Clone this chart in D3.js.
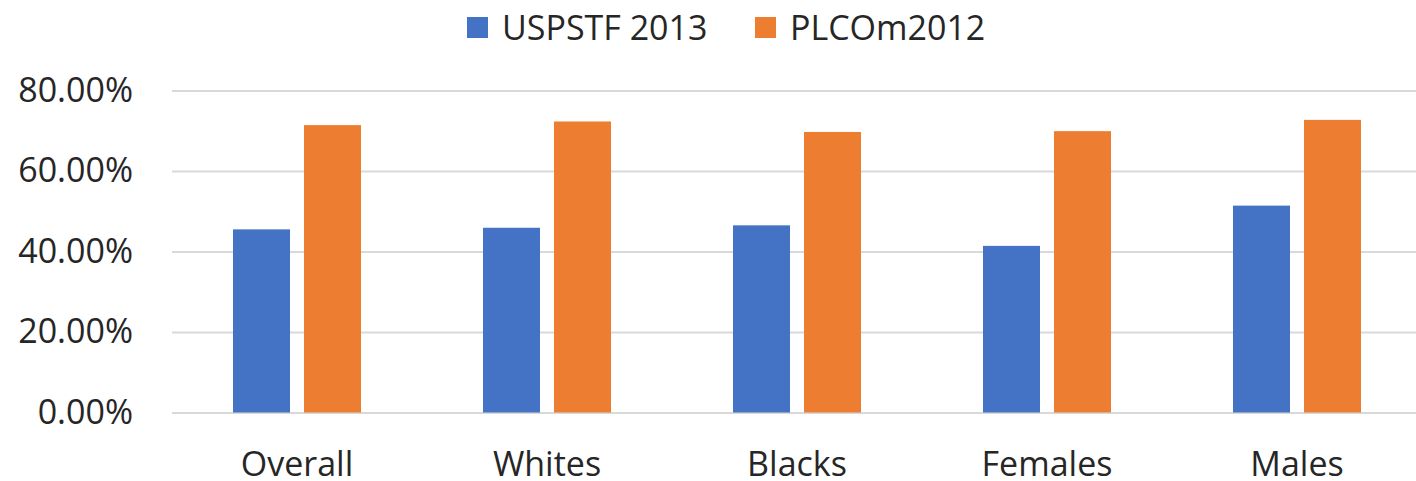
<!DOCTYPE html>
<html>
<head>
<meta charset="utf-8">
<script src="https://cdn.jsdelivr.net/npm/d3@7"></script>
<style>
  html, body { margin: 0; padding: 0; background: #fff; }
  svg { display: block; font-family: "Open Sans", sans-serif; }
</style>
</head>
<body>
<svg id="chart" width="1416" height="481"></svg>
<script>
// ── Data ────────────────────────────────────────────────
const categories = ['Overall', 'Whites', 'Blacks', 'Females', 'Males'];
const seriesNames = ['USPSTF 2013', 'PLCOm2012'];
const uspstf = [45.5, 45.9, 46.5, 41.4, 51.4];
const plcom  = [71.4, 72.3, 69.7, 69.9, 72.7];
const yTicks = [0, 20, 40, 60, 80];
const colors = ['#4472C4', '#ED7D31'];

const seriesValues = [uspstf, plcom];

const svg = d3.select('#chart');
const W = 1416, H = 481;
const m = { left: 172, right: -6, top: 90.5, bottom: 68.5 };
const fontSize = 34;
const textColor = '#262626';

const y = d3.scaleLinear().domain([0, 80]).range([H - m.bottom, m.top]);
const x0 = d3.scaleBand().domain(categories)
    .range([m.left, W - m.right])
    .paddingInner(0.488).paddingOuter(0.244);
const x1 = d3.scaleBand().domain(seriesNames)
    .range([0, x0.bandwidth()])
    .paddingInner(0.197);

// gridlines
svg.append('g')
    .attr('transform', `translate(${m.left},0)`)
    .call(d3.axisLeft(y).tickValues(yTicks).tickSize(-(W - m.right - m.left)).tickFormat(''))
    .call(g => g.select('.domain').remove())
    .call(g => g.selectAll('line').attr('stroke', '#d9d9d9').attr('stroke-width', 2));

// y labels
svg.append('g')
    .attr('transform', `translate(${m.left},0)`)
    .call(d3.axisLeft(y).tickValues(yTicks).tickSize(0).tickPadding(39)
        .tickFormat(d => d.toFixed(2) + '%'))
    .call(g => g.select('.domain').remove())
    .call(g => g.selectAll('text')
        .attr('font-size', fontSize).attr('fill', textColor)
        .attr('font-family', '"Open Sans", sans-serif'));

// bars
const groups = svg.append('g').selectAll('g')
    .data(categories)
    .join('g')
    .attr('transform', d => `translate(${x0(d)},0)`);

groups.selectAll('rect')
    .data((c, i) => seriesNames.map((s, j) => ({ s, v: seriesValues[j][i], j })))
    .join('rect')
    .attr('x', d => x1(d.s))
    .attr('width', x1.bandwidth())
    .attr('y', d => y(d.v))
    .attr('height', d => y(0) - y(d.v))
    .attr('fill', d => colors[d.j]);

// x labels
svg.append('g')
    .attr('transform', `translate(0,${y(0)})`)
    .call(d3.axisBottom(x0).tickSize(0).tickPadding(0))
    .call(g => g.select('.domain').remove())
    .call(g => g.selectAll('text')
        .attr('dy', null).attr('y', 63)
        .attr('font-size', fontSize).attr('fill', textColor)
        .attr('font-family', '"Open Sans", sans-serif'));

// legend
const legendX = [467, 755];
const legend = svg.append('g').selectAll('g')
    .data(seriesNames)
    .join('g')
    .attr('transform', (d, i) => `translate(${legendX[i]},28)`);
legend.append('rect')
    .attr('x', 0).attr('y', -11).attr('width', 21).attr('height', 21)
    .attr('fill', (d, i) => colors[i]);
legend.append('text')
    .attr('x', 35).attr('dy', '0.35em')
    .attr('font-size', fontSize).attr('fill', textColor)
    .text(d => d);
</script>
</body>
</html>
